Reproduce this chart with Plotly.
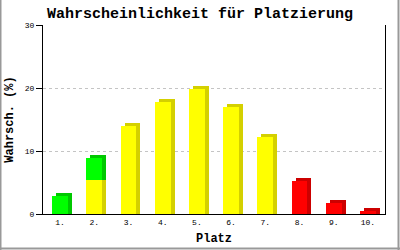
import plotly.graph_objects as go

places = ["1.", "2.", "3.", "4.", "5.", "6.", "7.", "8.", "9.", "10."]
yellow = [0, 5.4, 14.0, 17.8, 19.8, 17.0, 12.2, 0, 0, 0]
green = [2.9, 3.5, 0, 0, 0, 0, 0, 0, 0, 0]
red = [0, 0, 0, 0, 0, 0, 0, 5.2, 1.75, 0.5]
y_ticks = [0, 10, 20, 30]

W, H = 400, 250
ML, MR, MT, MB = 43, 15, 25, 36
PW, PH = W - ML - MR, H - MT - MB
BW = 0.46
DX = 4 / (PW / len(places))      # depth shift in category units
DY = 3 * 30 / PH                 # depth shift in value units

series = [
    (yellow, [0] * len(places), "#FFFF00", "#D4D000"),
    (green, yellow, "#00FF00", "#00C800"),
    (red, [0] * len(places), "#FF0000", "#CC0000"),
]

fig = go.Figure()
# shadow (3D side/top) traces
for vals, base, front, side in series:
    xs = [p for p, v in zip(places, vals) if v > 0]
    ys = [v + DY for v in vals if v > 0]
    bs = [b for b, v in zip(base, vals) if v > 0]
    fig.add_trace(go.Bar(x=xs, y=ys, base=bs, width=BW, offset=-BW / 2 + DX,
                         marker=dict(color=side, line=dict(width=0)),
                         hoverinfo="skip", showlegend=False))
# front traces
for vals, base, front, side in series:
    xs = [p for p, v in zip(places, vals) if v > 0]
    ys = [v for v in vals if v > 0]
    bs = [b for b, v in zip(base, vals) if v > 0]
    fig.add_trace(go.Bar(x=xs, y=ys, base=bs, width=BW, offset=-BW / 2,
                         marker=dict(color=front, line=dict(width=0)),
                         showlegend=False))

mono = "Liberation Mono, Courier New, monospace"
fig.update_layout(
    width=W, height=H,
    margin=dict(l=ML, r=MR, t=MT, b=MB, pad=0, autoexpand=False),
    paper_bgcolor="white", plot_bgcolor="white",
    barmode="overlay", bargap=0,
    title=dict(text="<b>Wahrscheinlichkeit für Platzierung</b>",
               font=dict(family=mono, size=15, color="black"),
               x=0.5, xanchor="center", y=1 - 13 / H, yanchor="middle"),
    xaxis=dict(categoryorder="array", categoryarray=places,
               range=[-0.5, len(places) - 0.5], automargin=False,
               showline=True, linecolor="black", linewidth=1,
               ticks="", showgrid=False, zeroline=False,
               tickfont=dict(family=mono, size=8, color="black"),
               title=dict(text="<b>Platz</b>", standoff=8,
                          font=dict(family=mono, size=12, color="black"))),
    yaxis=dict(range=[0, 30], tickvals=y_ticks, automargin=False,
               showline=True, linecolor="black", linewidth=1, mirror=True,
               ticks="outside", ticklen=6, tickcolor="black",
               showgrid=True, gridcolor="#C4C4C4", griddash="dot", gridwidth=1,
               zeroline=False,
               tickfont=dict(family=mono, size=8, color="black"),
               title=dict(text="<b>Wahrsch. (%)</b>", standoff=8,
                          font=dict(family=mono, size=12, color="black"))),
)

# gray frame around the whole image
def px_to_paper_x(px):
    return (px - ML) / PW

def px_to_paper_y(py):
    return (H - MB - py) / PH

for (x0, y0, x1, y1) in [(0.5, 0, 0.5, H), (W - 1.5, 0, W - 1.5, H), (0, H - 1.5, W, H - 1.5)]:
    fig.add_shape(type="line", xref="paper", yref="paper",
                  x0=px_to_paper_x(x0), x1=px_to_paper_x(x1),
                  y0=px_to_paper_y(y0), y1=px_to_paper_y(y1),
                  line=dict(color="#999999", width=2))

fig.write_html("out.html")
